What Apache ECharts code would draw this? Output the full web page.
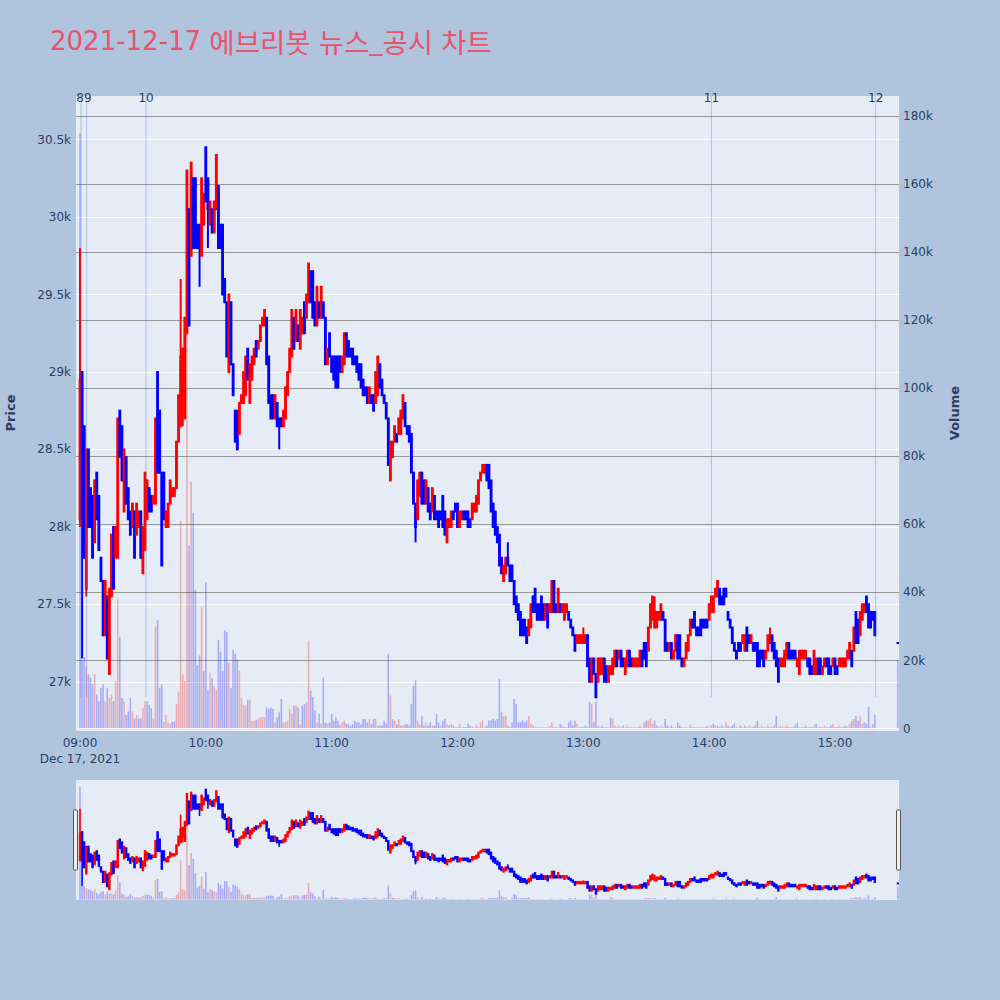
<!DOCTYPE html>
<html><head><meta charset="utf-8">
<script src="https://cdn.jsdelivr.net/npm/echarts@6/dist/echarts.min.js"></script>
<style>html,body{margin:0;padding:0;background:#b0c4de}#c{width:1000px;height:1000px}</style>
</head><body><div id="c"></div>
<script>
// ---- one candle per minute from 09:00 (index 0) to 15:19 (index 379) ----
const opens = [
28050,29000,28650,27600,28500,28250,28200,27900,28350,28200,27800,27650,27300,27550,27050,27550,28000,27800,27800,28750,
28650,28100,28450,28250,28100,28000,28100,27950,28000,28100,27700,27850,28050,28250,28200,28150,28150,29000,28750,28350,
28350,28000,
28000,28150,28200,28200,28250,28550,28650,28850,28700,29250,30050,29750,30250,30250,29950,29950,29750,29950,30450,30250,
29950,30050,29900,30050,30200,29950,29950,29600,29450,29000,29450,29050,28750,28750,28600,28800,28800,28850,29150,28800,
28950,29050,29200,29150,29200,29300,29300,29350,29100,28850,
28850,28700,28800,28700,28700,28650,28700,28850,29000,29100,29350,29200,29300,29150,29250,29450,29350,29450,29650,29650,
29450,29300,29450,29350,29450,29350,29050,29250,29100,29100,29100,29100,29100,29000,29050,29250,29200,29150,29150,29100,
29100,29050,29050,28950,28900,28900,28800,
28850,28850,28800,28850,29050,28950,28850,28800,28700,28300,28450,28550,28600,28600,28600,28700,28800,28650,28650,28600,
28350,28150,28050,28200,28350,28300,28150,28250,28150,28100,28200,28100,28100,28100,28200,28100,27900,28000,28000,28100,
28150,28150,28000,28050,28100,28100,
28100,28050,28050,28100,28100,28150,28300,28350,28350,28400,28400,28300,28150,28100,28000,27950,27800,27650,27700,27800,
27750,27750,27650,27550,27500,27450,27400,27400,27350,27300,27350,27550,27600,27500,27500,27550,27500,27400,27500,27450,
27450,27650,27500,27450,
27500,27450,27400,27450,27450,27400,27350,27300,27250,27250,27250,27250,27250,27300,27150,27000,27150,27050,27000,27050,
27050,27150,27100,27000,27050,27050,27100,27200,27150,27200,27150,27050,27100,27200,27150,27100,27100,27100,27100,27200,
27250,27250,27200,27350,27400,
27350,27350,27400,27400,27450,27400,27250,27200,27250,27150,27200,27300,27300,27150,27100,27150,27200,27300,27400,27450,
27350,27350,27400,27400,27400,27400,27400,27450,27450,27550,27550,27600,27550,27600,27600,27450,27400,27350,27250,27200,
27250,27250,27250,27200,27350,
27300,27250,27250,27250,27250,27200,27200,27200,27150,27200,27250,27300,27250,27200,27150,27100,27100,27100,27150,27250,
27200,27200,27200,27100,27050,27150,27150,27150,27150,27150,27100,27050,27050,27150,27150,27050,27100,27150,27150,27100,
27100,27150,27100,27100,27100,27100,
27100,27150,27150,27200,27200,27450,27400,27300,27400,27450,27550,27500,27450,27450,27450
];
const closes = [
28950,28050,27800,28500,28000,28000,27800,28300,28050,27850,27650,27300,27650,27150,27600,27950,27600,28000,28700,28450,
28300,28500,28150,28050,27950,28150,27800,28150,28100,27800,28000,28350,28300,28100,28100,28200,28700,28350,28350,27750,
28050,28100,
28150,28300,28250,28250,28550,28850,29100,29150,29350,30300,29300,30350,29800,29800,29800,29800,30250,30150,30100,30050,
30100,29900,30100,30400,29800,29800,29500,29450,29100,29500,29050,28850,28550,28500,28800,28850,29000,29100,28950,29050,
29100,29150,29100,29200,29300,29350,29400,29050,28800,28700,
28700,28850,28650,28650,28650,28750,28900,29000,29150,29400,29150,29400,29200,29400,29350,29250,29500,29700,29450,29350,
29300,29550,29350,29550,29350,29050,29150,29100,29000,28950,28900,28900,29000,29100,29250,29100,29100,29100,29050,29050,
29000,28950,28900,28850,28850,28800,28900,
28800,28750,29000,29100,28900,28850,28800,28700,28400,28550,28550,28650,28550,28700,28750,28850,28650,28600,28550,28350,
28150,28000,28300,28350,28150,28150,28300,28100,28050,28250,28050,28050,28000,28050,28000,27950,28050,28050,28100,28050,
28100,28000,28100,28100,28050,28050,
28000,28000,28150,28150,28200,28300,28350,28400,28400,28300,28250,28100,28000,27950,27900,27750,27700,27750,27800,27750,
27650,27650,27500,27450,27400,27300,27300,27300,27250,27400,27500,27450,27450,27400,27400,27400,27400,27500,27350,27500,
27650,27450,27450,27600,
27450,27500,27500,27500,27400,27350,27300,27200,27300,27300,27300,27300,27300,27100,27000,27150,27050,26900,27150,27150,
27150,27000,27000,27100,27100,27150,27200,27100,27200,27100,27100,27150,27200,27100,27100,27150,27150,27150,27200,27100,
27150,27100,27350,27500,27550,
27450,27450,27450,27500,27400,27200,27200,27250,27150,27200,27300,27150,27150,27100,27150,27250,27300,27400,27350,27350,
27300,27300,27300,27350,27350,27350,27500,27550,27550,27600,27650,27500,27500,27500,27550,27400,27350,27250,27200,27150,
27200,27200,27300,27300,27200,
27250,27300,27200,27200,27100,27100,27150,27100,27200,27300,27300,27200,27150,27100,27000,27150,27150,27200,27250,27150,
27150,27150,27150,27150,27200,27200,27200,27200,27100,27050,27050,27200,27150,27050,27050,27100,27150,27100,27050,27050,
27150,27050,27050,27150,27150,27150,
27150,27200,27250,27100,27350,27250,27250,27450,27500,27500,27450,27350,27350,27400,27300
];
// volume per minute, in thousands of shares
const volumesK = [
175,20,21,18,16,15,13,16,10,8,12,13,8,12,9,10,8,14,38,27,9,8,4,5,9,5,3,4,3,3,6,8,8,7,6,3,30,32,12,13,2,4,
1.7,1.5,2,2,7.3,10.8,61,15.8,14,126,53.8,72.5,63.4,40.8,18.7,21.5,35.7,17,43,11.3,
16.4,14.7,12.5,11.3,26,22.6,17,28.9,28.3,19.3,11.9,23.2,22,20.4,17,9,6.8,6.8,8.5,8.5,
2.3,2.3,2.5,3,3.4,3.4,3.4,6.2,5.8,6.2,
5.8,1.8,3.3,4.8,8.7,1.8,1.8,2.3,5.8,4.3,6.7,6.7,6.2,1.2,6.7,7.2,7.7,25.8,11.1,9.2,
5.3,1.8,4.3,1.5,15,1.8,1.5,1.8,4.3,2.3,3.3,2.3,1.2,1.8,2.3,1.5,1.2,0.8,1.2,2.3,
1.8,1.8,1.2,2.8,2.8,1.8,2.8,
1.3,2.8,2.8,0.9,0.9,0.9,2.3,1.5,22,9.7,2.8,2.3,1.3,2.8,0.9,0.9,1.3,1.3,0.9,7.3,
12.6,14.1,2.3,1.3,3.8,0.9,1.8,0.9,1.8,0.9,0.9,4.3,1.8,0.9,2.3,2.8,1.3,0.9,1.3,0.9,
0.4,0.4,1.3,0.4,0.4,0.4,
1.4,0.9,0.6,0.3,0.9,0.5,1.9,2.4,0.4,0.9,2.4,2.4,2.9,2.4,2.9,14.6,4.8,3.8,3.8,0.9,
0.4,1.9,8.7,7.2,1.9,1.9,2.4,1.9,2.4,3.8,1.4,0.9,0.4,0.4,0.4,0.4,0.4,0.4,0.4,0.9,
1.9,0.4,0.4,0.4,
1.4,0.9,0.4,0.4,1.9,2.4,0.9,2.4,1.4,0.4,0.4,0.4,0.9,0.4,7.8,7.3,1.9,7.8,0.9,0.4,
0.9,0.4,0.4,0.4,3.3,2.9,0.9,0.4,0.9,0.4,0.9,0.4,0.9,0.4,0.4,0.4,0.4,0.4,0.9,0.4,
1.9,2.4,2.4,2.9,1.4,
2.4,0.9,0.4,0.9,0.4,2.9,0.9,0.4,0.9,0.4,0.4,1.8,0.9,0.4,0.4,0.4,0.4,0.9,0.4,0.4,
0.4,0.4,0.4,0.4,0.4,0.9,0.4,0.9,1.5,0.9,0.9,0.4,0.9,0.4,1.9,0.9,0.4,0.9,1.5,0.4,
0.4,0.9,0.4,0.9,0.4,
0.9,0.4,0.4,0.9,2.3,0.4,0.9,0.4,0.4,0.9,0.4,0.4,0.9,3.8,0.4,0.9,0.4,0.4,0.9,0.4,
0.4,0.4,0.9,1.8,0.4,0.4,0.4,0.9,0.4,0.4,0.4,0.9,1.4,0.4,0.4,0.4,0.9,0.4,0.4,0.9,
1.4,0.4,0.4,0.9,0.4,0.4,
0.9,0.6,1.4,2.3,2.8,3.8,2.3,3.8,1.4,1.8,1.4,6.4,0.4,1.4,4.1
];
// wicks that reach beyond the candle body (minute index, low, high)
const wickIndex = [0, 1, 3, 48, 49, 57, 61, 95, 160, 204, 240, 274, 329];
const wickLow   = [28000, 27150, 27550, null, 28650, 29550, 29800, 28500, 27900, null, null, null, null];
const wickHigh  = [29800, 29000, null, 29600, null, null, null, null, null, 27900, 27350, 27550, 27350];
// closing single-price auction
const auctionTime = '15:30';
const auctionPrice = 27250;
const auctionVolumeK = 20;
// news / disclosure markers
const newsTimes  = ['09:00:30', '09:03:10', '09:31:30', '14:01:05', '15:19:25'];
const newsLabels = ['8', '9', '10', '11', '12'];
const hourTicks  = ['09:00', '10:00', '11:00', '12:00', '13:00', '14:00', '15:00'];
const dateLabel  = 'Dec 17, 2021';
const titleParts = ['2021-12-17 ', '에브리봇', ' ', '뉴스', '_', '공시', ' ', '차트'];

// ---------------------------------------------------------------
const toMin = t => { const p = t.split(':').map(Number); return (p[0] - 9) * 60 + p[1] + (p[2] || 0) / 60; };
const minToLabel = m => { const h = 9 + Math.floor(m / 60), mm = Math.round(m % 60); return String(h).padStart(2, '0') + ':' + String(mm).padStart(2, '0'); };

const candles = opens.map((o, i) => {
  const c = closes[i];
  let lo = Math.min(o, c), hi = Math.max(o, c);
  const k = wickIndex.indexOf(i);
  if (k >= 0) {
    if (wickLow[k] != null) lo = Math.min(lo, wickLow[k]);
    if (wickHigh[k] != null) hi = Math.max(hi, wickHigh[k]);
  }
  return [i, o, c, lo, hi];
});
candles.push([toMin(auctionTime), auctionPrice, auctionPrice, auctionPrice, auctionPrice]);

const vols = volumesK.map((v, i) => [i, v * 1000, (i > 0 && closes[i] > closes[i - 1]) ? 1 : 0]);
vols.push([toMin(auctionTime), auctionVolumeK * 1000, auctionPrice > closes[closes.length - 1] ? 1 : 0]);

const news = newsTimes.map((t, i) => [toMin(t), newsLabels[i]]);

const UP = '#ff0000', DOWN = '#0000ff';
const FONT = '"DejaVu Sans", Verdana, "Noto Sans CJK KR", sans-serif';
const CJK = '"Noto Sans CJK KR", "DejaVu Sans", sans-serif';
const TICKC = '#2a3f5f';
const TITLEC = '#e9536b';
// layout (pixels)
const L = 76, R = 101;           // plot left / right margins
const PLOT_TOP = 96, PLOT_BOT = 731, NEWS_BOT = 697;
const X_MIN = -1.907, X_MAX = 390.52;
const NEWS_LABEL_GAP = 7.8;      // min distance between news label centres

// title as rich text: latin runs in DejaVu, hangul runs in Noto Sans CJK
const titleRich = titleParts.map(s => (/[\uac00-\ud7a3]/.test(s) ? '{k|' : '{a|') + s + '}').join('');

function candleItem(w, lw) {
  return function (params, api) {
    const x = api.value(0), o = api.value(1), c = api.value(2), lo = api.value(3), hi = api.value(4);
    const pO = api.coord([x, o]), pC = api.coord([x, c]), pL = api.coord([x, lo]), pH = api.coord([x, hi]);
    const color = c > o ? UP : DOWN;
    const top = Math.min(pO[1], pC[1]), bot = Math.max(pO[1], pC[1]);
    return { type: 'group', children: [
      { type: 'line', shape: { x1: pL[0], y1: pL[1], x2: pH[0], y2: pH[1] }, style: { stroke: color, lineWidth: lw } },
      { type: 'rect', shape: { x: pO[0] - w / 2, y: top - 1, width: w, height: bot - top + 2 }, style: { fill: color } }
    ]};
  };
}
function volItem(w) {
  return function (params, api) {
    const x = api.value(0), v = api.value(1), up = api.value(2);
    const p0 = api.coord([x, 0]), p1 = api.coord([x, v]);
    return { type: 'rect', shape: { x: p0[0] - w / 2, y: p1[1], width: w, height: p0[1] - p1[1] },
      style: { fill: up ? 'rgba(255,0,0,0.27)' : 'rgba(0,0,255,0.27)' } };
  };
}
function newsItem(params, api) {
  const i = params.dataIndex;
  const px = j => api.coord([news[j][0], 28000])[0];
  const x = px(i);
  // nudge labels of very close markers apart so they do not overlap
  let lx = x;
  if (i > 0) { const g = x - px(i - 1); if (g < NEWS_LABEL_GAP) lx += (NEWS_LABEL_GAP - g) / 2; }
  if (i < news.length - 1) { const g = px(i + 1) - x; if (g < NEWS_LABEL_GAP) lx -= (NEWS_LABEL_GAP - g) / 2; }
  return { type: 'group', children: [
    { type: 'line', shape: { x1: x, y1: PLOT_TOP, x2: x, y2: NEWS_BOT }, style: { stroke: 'rgba(65,105,225,0.32)', lineWidth: 1 } },
    { type: 'text', x: lx, y: PLOT_TOP + 1.5, style: { text: api.value(1), fill: TICKC, font: '12px ' + FONT, align: 'center', verticalAlign: 'middle' } }
  ]};
}

const chart = echarts.init(document.getElementById('c'), null, { renderer: 'svg' });
const hidden = { show: false };
const xBase = { type: 'value', min: X_MIN, max: X_MAX, axisLine: hidden, axisTick: hidden, splitLine: hidden };
chart.setOption({
  animation: false,
  backgroundColor: '#b0c4de',
  textStyle: { fontFamily: FONT },
  title: { text: titleRich, left: 50, top: 27, padding: 0,
    textStyle: { fontFamily: FONT, fontSize: 26, fontWeight: 'normal', color: TITLEC,
      rich: {
        a: { fontFamily: FONT, fontSize: 26, color: TITLEC, fontWeight: 'normal' },
        k: { fontFamily: CJK, fontSize: 27.5, color: TITLEC, fontWeight: 'normal' }
      } } },
  graphic: { elements: [
    { type: 'rect', z: -10, shape: { x: L, y: PLOT_TOP, width: 1000 - L - R, height: PLOT_BOT - PLOT_TOP }, style: { fill: '#e5ecf6' } },
    { type: 'rect', z: -10, shape: { x: L, y: 780, width: 1000 - L - R, height: 120 }, style: { fill: '#e5ecf6' } },
    { type: 'rect', z: 50, shape: { x: 73.5, y: 810, width: 4, height: 60, r: 1 }, style: { fill: '#eeeeee', stroke: '#555', lineWidth: 1 } },
    { type: 'rect', z: 50, shape: { x: 896.5, y: 810, width: 4, height: 60, r: 1 }, style: { fill: '#eeeeee', stroke: '#555', lineWidth: 1 } },
    { type: 'text', z: 50, x: 10, y: 413, rotation: Math.PI / 2,
      style: { text: 'Price', fill: TICKC, font: 'bold 13px ' + FONT, align: 'center', verticalAlign: 'middle' } },
    { type: 'text', z: 50, x: 954, y: 413, rotation: Math.PI / 2,
      style: { text: 'Volume', fill: TICKC, font: 'bold 13px ' + FONT, align: 'center', verticalAlign: 'middle' } }
  ]},
  grid: [
    { left: L, right: R, top: 62.15, height: 697.1 },      // price
    { left: L, right: R, top: 115.9, height: 612.7 },      // volume
    { left: L, right: R, top: 780, height: 120 },          // slider price
    { left: L, right: R, top: 780, height: 120 }           // slider volume
  ],
  xAxis: [
    Object.assign({ gridIndex: 0, axisLabel: hidden }, xBase),
    Object.assign({ gridIndex: 1, axisLabel: {
      customValues: hourTicks.map(toMin), margin: 6, lineHeight: 16, fontSize: 12, color: TICKC, fontFamily: FONT,
      formatter: v => Math.abs(v) < 1e-6 ? minToLabel(v) + '\n' + dateLabel : minToLabel(v) } }, xBase),
    Object.assign({ gridIndex: 2, axisLabel: hidden }, xBase),
    Object.assign({ gridIndex: 3, axisLabel: hidden }, xBase)
  ],
  yAxis: [
    { gridIndex: 0, type: 'value', position: 'left', min: 26500, max: 31000, interval: 500,
      axisLine: hidden, axisTick: hidden,
      axisLabel: { showMinLabel: false, showMaxLabel: false, margin: 5, fontSize: 12, color: TICKC, fontFamily: FONT,
        formatter: v => (v / 1000) + 'k' },
      splitLine: { show: true, showMinLine: false, showMaxLine: false, lineStyle: { color: '#ffffff', width: 1 } } },
    { gridIndex: 1, type: 'value', position: 'right', min: 0, max: 180000, interval: 20000,
      axisLine: hidden, axisTick: hidden,
      axisLabel: { margin: 4, fontSize: 12, color: TICKC, fontFamily: FONT, formatter: v => v === 0 ? '0' : (v / 1000) + 'k' },
      splitLine: { show: true, lineStyle: { color: ['#ffffff', '#979797', '#979797', '#979797', '#979797', '#979797', '#979797', '#979797', '#979797', '#979797'], width: 1.2 } } },
    { gridIndex: 2, type: 'value', min: 26682, max: 30781, show: false },
    { gridIndex: 3, type: 'value', min: -700, max: 185800, show: false }
  ],
  series: [
    { type: 'custom', name: 'volume', xAxisIndex: 1, yAxisIndex: 1, z: 1, clip: true, renderItem: volItem(1.6),
      encode: { x: 0, y: 1 }, data: vols },
    { type: 'custom', name: 'price', xAxisIndex: 0, yAxisIndex: 0, z: 3, clip: true, renderItem: candleItem(2.8, 2),
      encode: { x: 0, y: [1, 2, 3, 4] }, data: candles },
    { type: 'custom', name: 'news', xAxisIndex: 0, yAxisIndex: 0, z: 5, renderItem: newsItem,
      encode: { x: 0 }, data: news },
    { type: 'custom', name: 'volume-mini', xAxisIndex: 3, yAxisIndex: 3, z: 1, clip: true, renderItem: volItem(1.6),
      encode: { x: 0, y: 1 }, data: vols },
    { type: 'custom', name: 'price-mini', xAxisIndex: 2, yAxisIndex: 2, z: 3, clip: true, renderItem: candleItem(2.4, 1.6),
      encode: { x: 0, y: [1, 2, 3, 4] }, data: candles }
  ]
});
</script></body></html>
